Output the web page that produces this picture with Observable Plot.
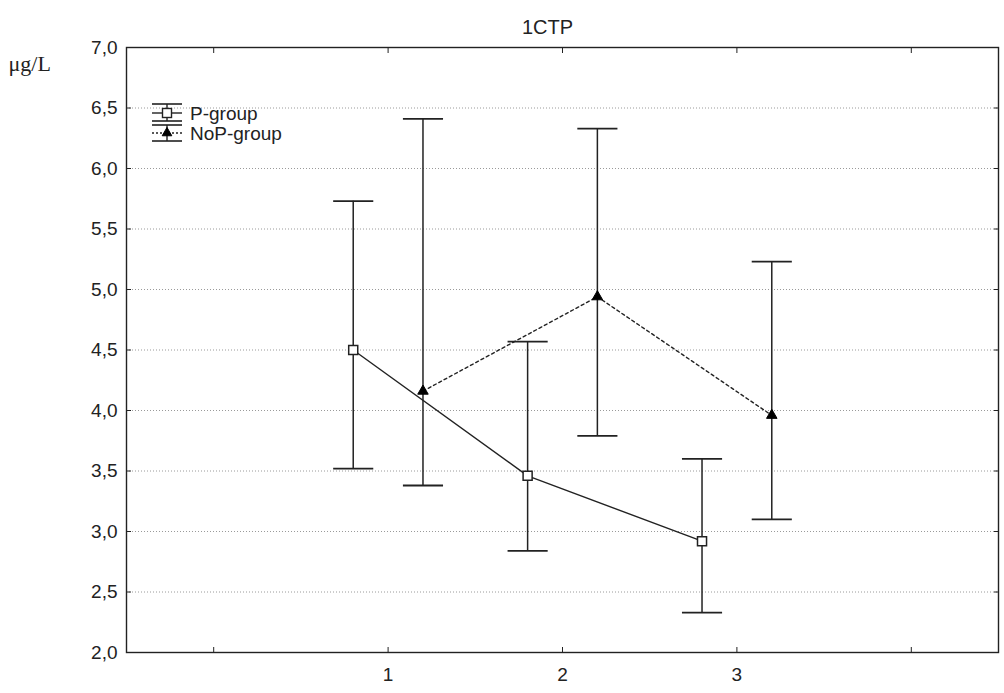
<!DOCTYPE html>
<html>
<head>
<meta charset="utf-8">
<script src="https://cdn.jsdelivr.net/npm/d3@7"></script>
<script src="https://cdn.jsdelivr.net/npm/@observablehq/plot@0.6"></script>
<style>
  html, body { margin: 0; padding: 0; background: #fff; }
  #chart { position: relative; width: 1004px; height: 693px; }
</style>
</head>
<body>
<div id="chart"></div>
<script>
// ---- data ----
const title = "1CTP";
const yLabel = "μg/L";
const groups = ["P-group", "NoP-group"];
const timePoints = [1, 2, 3];
const pMean  = [4.50, 3.46, 2.92];
const pUpper = [5.73, 4.57, 3.60];
const pLower = [3.52, 2.84, 2.33];
const nopMean  = [4.16, 4.94, 3.96];
const nopUpper = [6.41, 6.33, 5.23];
const nopLower = [3.38, 3.79, 3.10];
const yTicks = [2.0, 2.5, 3.0, 3.5, 4.0, 4.5, 5.0, 5.5, 6.0, 6.5, 7.0];
const xTickLabels = [1, 2, 3];
const xTicksAll = [0, 1, 2, 3, 4];

// ---- build ----
const dodge = 0.2;       // horizontal offset of the two groups
const capHalf = 0.115;   // half width of error-bar caps (x units)
function rows(name, means, lows, highs, off) {
  return timePoints.map((t, i) => ({group: name, t, x: t + off, mean: means[i], lo: lows[i], hi: highs[i]}));
}
const P = rows(groups[0], pMean, pLower, pUpper, -dodge);
const N = rows(groups[1], nopMean, nopLower, nopUpper, dodge);
const all = P.concat(N);
const fmt = d => d.toFixed(1).replace(".", ",");
const ink = "#222";

const chart = Plot.plot({
  width: 1004,
  height: 693,
  marginLeft: 126,
  marginRight: 6,
  marginTop: 47,
  marginBottom: 41,
  style: {fontFamily: "'Liberation Sans', Arial, sans-serif", fontSize: "19px", background: "#fff", color: ink},
  x: {domain: [-0.5, 4.5], axis: null},
  y: {domain: [2, 7], axis: null},
  marks: [
    Plot.gridY(yTicks.slice(1, -1), {stroke: "#9a9a9a", strokeOpacity: 1, strokeDasharray: "1,2", strokeWidth: 1}),
    Plot.frame({stroke: ink, strokeWidth: 1.4}),
    // inward ticks on all four sides
    Plot.axisY(yTicks, {anchor: "left", tickSize: -5, text: null, label: null, stroke: ink}),
    Plot.axisY(yTicks, {anchor: "right", tickSize: -5, text: null, label: null, stroke: ink}),
    Plot.axisX(xTicksAll, {anchor: "bottom", tickSize: -5, text: null, label: null, stroke: ink}),
    Plot.axisX(xTicksAll, {anchor: "top", tickSize: -5, text: null, label: null, stroke: ink}),
    // tick labels
    Plot.axisY(yTicks, {anchor: "left", tickSize: 0, tickPadding: 9, fontSize: 19, tickFormat: fmt, label: null}),
    Plot.axisX(xTickLabels, {anchor: "bottom", tickSize: 0, tickPadding: 15, fontSize: 19, tickFormat: d => String(d), label: null}),
    // error bars
    Plot.ruleX(all, {x: "x", y1: "lo", y2: "hi", stroke: ink, strokeWidth: 1.5}),
    Plot.link(all, {x1: d => d.x - capHalf, x2: d => d.x + capHalf, y1: "hi", y2: "hi", stroke: ink, strokeWidth: 1.8}),
    Plot.link(all, {x1: d => d.x - capHalf, x2: d => d.x + capHalf, y1: "lo", y2: "lo", stroke: ink, strokeWidth: 1.8}),
    // connecting lines
    Plot.line(P, {x: "x", y: "mean", stroke: ink, strokeWidth: 1.4}),
    Plot.line(N, {x: "x", y: "mean", stroke: ink, strokeWidth: 1.4, strokeDasharray: "3,3"}),
    // markers
    Plot.dot(P, {x: "x", y: "mean", symbol: "square", r: 5.1, fill: "#fff", stroke: ink, strokeWidth: 1.5}),
    Plot.dot(N, {x: "x", y: "mean", symbol: "triangle", r: 3.9, fill: "#000", stroke: "#000", strokeWidth: 1}),
    // title and unit label
    Plot.text([title], {frameAnchor: "top", dx: -15, dy: -28, fontSize: 20, fill: ink}),
    Plot.text([yLabel], {frameAnchor: "top-left", textAnchor: "start", dx: -118, dy: 8, fontSize: 22,
      fontFamily: "'Liberation Serif', 'Times New Roman', serif", fill: ink})
  ]
});
document.getElementById("chart").appendChild(chart);

// ---- legend (drawn into the same svg) ----
const svg = d3.select(chart);
const lg = svg.append("g").attr("class", "legend").attr("stroke", ink).attr("fill", "none");
const legendSpec = [
  {name: groups[0], top: 104, mid: 113, bot: 121, dash: null, sym: "square"},
  {name: groups[1], top: 125, mid: 133, bot: 141, dash: "2,2", sym: "triangle"}
];
const gx = 167, gw = 15;
legendSpec.forEach(s => {
  lg.append("line").attr("x1", gx - gw).attr("x2", gx + gw).attr("y1", s.top).attr("y2", s.top).attr("stroke-width", 1.6);
  lg.append("line").attr("x1", gx - gw).attr("x2", gx + gw).attr("y1", s.bot).attr("y2", s.bot).attr("stroke-width", 1.6);
  lg.append("line").attr("x1", gx).attr("x2", gx).attr("y1", s.top).attr("y2", s.bot).attr("stroke-width", 1.4);
  lg.append("line").attr("x1", gx - gw).attr("x2", gx + gw).attr("y1", s.mid).attr("y2", s.mid)
    .attr("stroke-width", 1.4).attr("stroke-dasharray", s.dash);
  if (s.sym === "square") {
    lg.append("rect").attr("x", gx - 4.5).attr("y", s.mid - 4.5).attr("width", 9).attr("height", 9)
      .attr("fill", "#fff").attr("stroke-width", 1.4);
  } else {
    lg.append("path").attr("d", d3.symbol(d3.symbolTriangle, 40)()).attr("transform", `translate(${gx},${s.mid})`)
      .attr("fill", "#000").attr("stroke", "#000");
  }
  svg.append("text").attr("x", 190).attr("y", s.mid + 7).attr("font-size", 19).attr("fill", ink)
    .attr("text-anchor", "start")
    .attr("font-family", "'Liberation Sans', Arial, sans-serif").text(s.name);
});
</script>
</body>
</html>
